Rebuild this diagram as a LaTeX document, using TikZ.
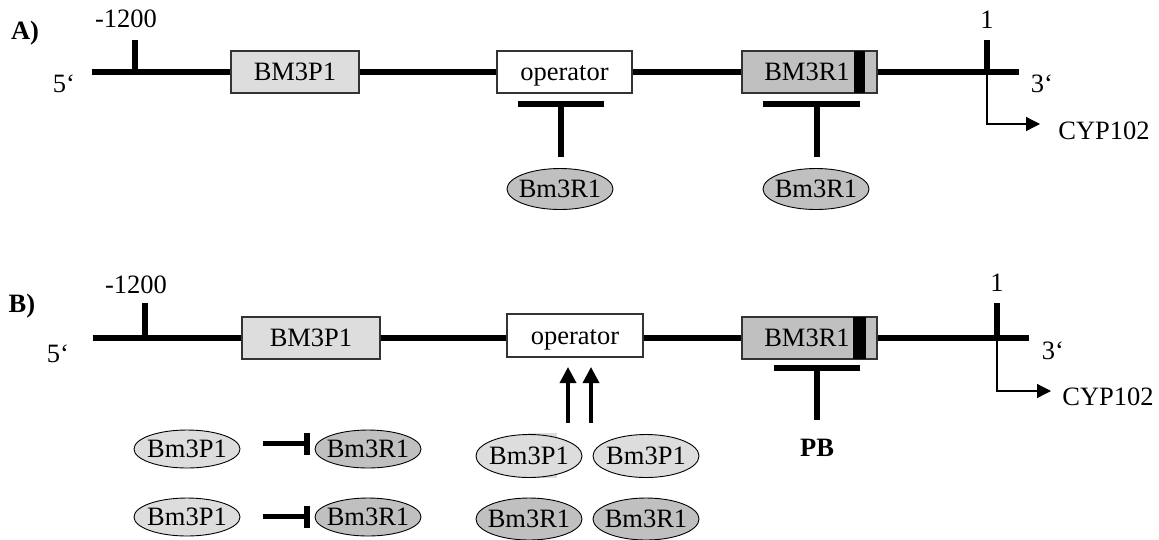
\documentclass[tikz,border=0pt]{standalone}
\usepackage{fontspec}
\setmainfont{Liberation Serif}
\usetikzlibrary{shapes.geometric,arrows.meta}
\definecolor{lightfill}{HTML}{DDDDDD}
\definecolor{midfill}{HTML}{C0C0C0}
\newcommand\protlabel[1]{\makebox[60pt][c]{#1}}
\begin{document}
\begin{tikzpicture}[x=1pt,y=-1pt,
  every node/.style={font=\fontsize{26.5}{30}\selectfont, inner sep=0pt, text height=17pt, text depth=0pt},
  dna/.style={line width=6pt},
  genebox/.style={rectangle, draw=black!80, line width=1.2pt, minimum height=42pt},
  prot/.style={ellipse, draw=black, line width=0.9pt, minimum width=106pt, minimum height=41pt},
  pone/.style={prot, fill=lightfill},
  rone/.style={prot, fill=midfill},
  thinarrow/.style={line width=1.3pt, -{Triangle[length=14pt,width=14pt]}},
  uparrow/.style={line width=3.5pt, -{Triangle[length=16pt,width=16pt]}},
  band/.style={fill=black}
]
\useasboundingbox (0,0) rectangle (1159,539);

%% ---------------- Panel A ----------------
\node[font=\fontsize{26.5}{30}\selectfont\bfseries] (labA) at (25,31) {A)};
\coordinate (a5) at (92,71.5);
\coordinate (a3) at (1019,71.5);
\draw[dna] (a5) -- (a3);
\coordinate (at1b) at (135,71.5);
\coordinate (at1t) at (135,40);
\draw[dna] (at1b) -- (at1t);
\coordinate (at2b) at (987,71.5);
\coordinate (at2t) at (987,40);
\draw[dna] (at2b) -- (at2t);
\node (am1200) at (126,19) {-1200};
\node (aone) at (987,20) {1};
\node (afive) at (64,83.5) {5‘};
\node (athree) at (1042,83.5) {3‘};
\node (acyp) at (1104,131) {CYP102};
\coordinate (abend) at (987,124);
\coordinate (atip) at (1040,124);
\draw[thinarrow] (at2b) -- (abend) -- (atip);

\node[genebox, fill=lightfill, minimum width=128pt] (ap1) at (295,72) {BM3P1};
\node[genebox, fill=white, minimum width=135pt] (aop) at (564.5,72) {operator};
\node[genebox, fill=midfill, minimum width=135pt] (ar1) at (809.5,72) {};
\node (ar1t) at (807,72) {BM3R1};
\fill[band] ([xshift=-24pt,yshift=-0.6pt]ar1.north east) rectangle ([xshift=-13pt,yshift=0.6pt]ar1.south east);

% repressor at operator
\coordinate (ab1l) at (518,104);
\coordinate (ab1r) at (604,104);
\coordinate (ab1m) at (561,104);
\coordinate (ab1s) at (561,157);
\draw[dna] (ab1l) -- (ab1r);
\draw[dna] (ab1m) -- (ab1s);
\node[rone] (aR1) at (560,189) {\protlabel{Bm3R1}};
% repressor at BM3R1
\coordinate (ab2l) at (763,104);
\coordinate (ab2r) at (860,104);
\coordinate (ab2m) at (817,104);
\coordinate (ab2s) at (817,157);
\draw[dna] (ab2l) -- (ab2r);
\draw[dna] (ab2m) -- (ab2s);
\node[rone] (aR2) at (816,189) {\protlabel{Bm3R1}};

%% ---------------- Panel B ----------------
\node[font=\fontsize{26.5}{30}\selectfont\bfseries] (labB) at (22,304) {B)};
\coordinate (b5) at (93,337.5);
\coordinate (b3) at (1029,337.5);
\draw[dna] (b5) -- (b3);
\coordinate (bt1b) at (145,337.5);
\coordinate (bt1t) at (145,303);
\draw[dna] (bt1b) -- (bt1t);
\coordinate (bt2b) at (997,337.5);
\coordinate (bt2t) at (997,303);
\draw[dna] (bt2b) -- (bt2t);
\node (bm1200) at (136,285) {-1200};
\node (bone) at (997,283) {1};
\node (bfive) at (58,354) {5‘};
\node (bthree) at (1053,351) {3‘};
\node (bcyp) at (1108,397) {CYP102};
\coordinate (bbend) at (997,391);
\coordinate (btip) at (1051,391);
\draw[thinarrow] (bt2b) -- (bbend) -- (btip);

\node[genebox, fill=lightfill, minimum width=138pt] (bp1) at (311,338) {BM3P1};
\node[genebox, fill=white, minimum width=136pt, minimum height=43pt] (bop) at (575,335.5) {operator};
\node[genebox, fill=midfill, minimum width=135pt] (br1) at (809.5,338) {};
\node (br1t) at (807,338) {BM3R1};
\fill[band] ([xshift=-25pt,yshift=-0.6pt]br1.north east) rectangle ([xshift=-12pt,yshift=0.6pt]br1.south east);

% PB repression of BM3R1
\coordinate (bb1l) at (774,368);
\coordinate (bb1r) at (860,368);
\coordinate (bb1m) at (817,368);
\coordinate (bb1s) at (817,420);
\draw[dna] (bb1l) -- (bb1r);
\draw[dna] (bb1m) -- (bb1s);
\node[font=\fontsize{26.5}{30}\selectfont\bfseries] (pb) at (817,448) {PB};

% activators binding operator
\fill[lightfill] (528,433) rectangle (557,478);
\node[pone, minimum height=43pt] (mP1) at (529,456) {\protlabel{Bm3P1}};
\node[pone, minimum height=43pt] (mP2) at (646,456) {\protlabel{Bm3P1}};
\node[rone, minimum height=42pt] (mR1) at (529,519) {\protlabel{Bm3R1}};
\node[rone, minimum height=42pt] (mR2) at (646,519) {\protlabel{Bm3R1}};
\coordinate (ua1s) at (568,423);
\coordinate (ua1e) at (568,367);
\coordinate (ua2s) at (591,423);
\coordinate (ua2e) at (591,367);
\draw[uparrow] (ua1s) -- (ua1e);
\draw[uparrow] (ua2s) -- (ua2e);

% left: Bm3P1 inhibits Bm3R1
\node[pone, minimum height=38pt] (lP1) at (187,449) {\protlabel{Bm3P1}};
\node[rone, minimum height=38pt] (lR1) at (368,449) {\protlabel{Bm3R1}};
\node[pone, minimum height=38pt] (lP2) at (187,517) {\protlabel{Bm3P1}};
\node[rone, minimum height=38pt] (lR2) at (368,517) {\protlabel{Bm3R1}};
\coordinate (i1s) at (263,443);
\coordinate (i1e) at (305,443);
\coordinate (i1t) at (307,432.5);
\coordinate (i1b) at (307,454.5);
\draw[line width=5pt] (i1s) -- (i1e);
\draw[line width=6pt] (i1t) -- (i1b);
\coordinate (i2s) at (263,516);
\coordinate (i2e) at (305,516);
\coordinate (i2t) at (307,506);
\coordinate (i2b) at (307,528);
\draw[line width=5pt] (i2s) -- (i2e);
\draw[line width=6pt] (i2t) -- (i2b);
\end{tikzpicture}
\end{document}
